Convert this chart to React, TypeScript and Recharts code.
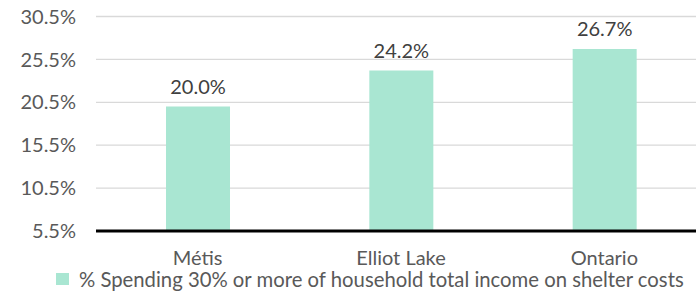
import { BarChart, Bar, XAxis, YAxis, CartesianGrid, Legend, LabelList } from 'recharts'

const categories = ['Métis', 'Elliot Lake', 'Ontario']
const shelterShare = [20.0, 24.2, 26.7]
const yTicks = [5.5, 10.5, 15.5, 20.5, 25.5, 30.5]
const seriesName = '% Spending 30% or more of household total income on shelter costs'

const data = categories.map((name, i) => ({ name, value: shelterShare[i] }))

const font = 'Lato, "Open Sans", sans-serif'
const textGrey = '#595959'
const barColor = '#A9E6D2'

const pct = (v: number) => `${Number(v).toFixed(1)}%`

function LegendBox() {
  return (
    <div style={{ display: 'flex', alignItems: 'center', height: 24, lineHeight: '24px', fontFamily: font, fontSize: 20.3, color: textGrey, whiteSpace: 'nowrap' }}>
      <span style={{ width: 13, height: 12, background: barColor, display: 'inline-block', marginRight: 10 }} />
      <span>{seriesName}</span>
    </div>
  )
}

export default function App() {
  return (
    <div style={{ position: 'absolute', left: 0, top: 0, width: 696, height: 294, overflow: 'hidden', background: '#fff' }}>
      <BarChart width={706} height={294} data={data} margin={{ top: 16.5, right: 0, left: 0, bottom: 2 }}>
        <CartesianGrid vertical={false} stroke="#D9D9D9" strokeWidth={1.3} />
        <XAxis
          dataKey="name"
          axisLine={{ stroke: '#000', strokeWidth: 3 }}
          tickLine={false}
          tickSize={0}
          tickMargin={20}
          height={37}
          tick={{ fontFamily: font, fontSize: 20, fill: textGrey }}
        />
        <YAxis
          domain={[5.5, 30.5]}
          ticks={yTicks}
          width={96}
          axisLine={false}
          tickLine={false}
          tickSize={0}
          tickMargin={20}
          tickFormatter={pct}
          tick={{ fontFamily: font, fontSize: 20, fill: textGrey }}
        />
        <Legend verticalAlign="bottom" content={() => <LegendBox />} wrapperStyle={{ left: 56, top: 267, width: 650, height: 24 }} />
        <Bar dataKey="value" name={seriesName} fill={barColor} barSize={64} isAnimationActive={false}>
          <LabelList dataKey="value" position="top" offset={13} formatter={pct} style={{ fontFamily: font, fontSize: 20, fill: '#404040' }} />
        </Bar>
      </BarChart>
    </div>
  )
}
